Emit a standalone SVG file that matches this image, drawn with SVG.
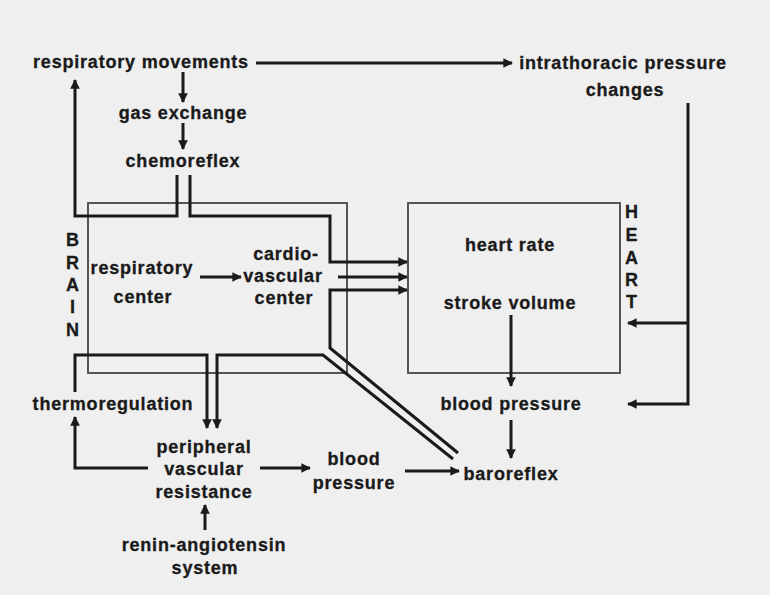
<svg xmlns="http://www.w3.org/2000/svg" width="770" height="595" viewBox="0 0 770 595">
<defs>
<style>
text{font-family:"Liberation Sans",Arial,sans-serif;font-weight:bold;font-size:18px;letter-spacing:0.8px;fill:#1a1a1a;stroke:#1a1a1a;stroke-width:0.3;text-anchor:middle;dominant-baseline:central}
.box{fill:none;stroke:#555;stroke-width:2}
.c{fill:none;stroke:#1a1a1a;stroke-width:3;stroke-linejoin:miter}
.a{marker-end:url(#ah)}
</style>
<marker id="ah" viewBox="0 0 10 10" refX="9" refY="5" markerWidth="3.2" markerHeight="3.2" orient="auto" markerUnits="strokeWidth">
<path d="M0,0 L10,5 L0,10 z" fill="#1a1a1a"/>
</marker>
</defs>
<rect width="770" height="595" fill="#efefef"/>

<g id="brain">
<rect class="box" x="88" y="203" width="259" height="170"/>
<text x="73" y="240">B</text>
<text x="73" y="263">R</text>
<text x="73" y="285">A</text>
<text x="73" y="307">I</text>
<text x="73" y="330">N</text>
</g>
<g id="heart">
<rect class="box" x="408" y="203" width="212" height="170"/>
<text x="632" y="212">H</text>
<text x="632" y="235">E</text>
<text x="632" y="258">A</text>
<text x="632" y="280">R</text>
<text x="632" y="302">T</text>
</g>

<g id="respiratory-movements"><text x="141" y="62">respiratory movements</text></g>
<g id="intrathoracic"><text x="623" y="63">intrathoracic pressure</text><text x="625" y="90">changes</text></g>
<g id="gas-exchange"><text x="183" y="113">gas exchange</text></g>
<g id="chemoreflex"><text x="183" y="161">chemoreflex</text></g>
<g id="respiratory-center"><text x="142" y="268">respiratory</text><text x="143" y="297">center</text></g>
<g id="cardiovascular-center"><text x="286" y="254">cardio-</text><text x="283" y="276">vascular</text><text x="284" y="298">center</text></g>
<g id="heart-rate"><text x="510" y="245">heart rate</text></g>
<g id="stroke-volume"><text x="510" y="303">stroke volume</text></g>
<g id="blood-pressure-heart"><text x="511" y="404">blood pressure</text></g>
<g id="thermoregulation"><text x="113" y="404">thermoregulation</text></g>
<g id="peripheral-resistance"><text x="204" y="447">peripheral</text><text x="204" y="469">vascular</text><text x="204" y="492">resistance</text></g>
<g id="blood-pressure"><text x="354" y="459">blood</text><text x="354" y="483">pressure</text></g>
<g id="baroreflex"><text x="511" y="474">baroreflex</text></g>
<g id="renin"><text x="204" y="545">renin-angiotensin</text><text x="205" y="568">system</text></g>

<g id="connectors">
<path class="c a" d="M256,63 H512"/>
<path class="c a" d="M183,72 V102"/>
<path class="c a" d="M183,123 V149"/>
<path class="c a" d="M177,175 V216 H75 V80"/>
<path class="c a" d="M190,175 V216 H330 V262 H407"/>
<path class="c a" d="M200,277 H241"/>
<path class="c a" d="M338,277 H407"/>
<path class="c a" d="M458,453 L330,348 V290 H407"/>
<path class="c a" d="M453,459 L323,355 H217 V428"/>
<path class="c a" d="M75,392 V355 H207 V428"/>
<path class="c a" d="M148,468 H75 V417"/>
<path class="c a" d="M260,468 H310"/>
<path class="c a" d="M405,471 H459"/>
<path class="c a" d="M205,530 V505"/>
<path class="c a" d="M511,315 V386"/>
<path class="c a" d="M511,420 V458"/>
<path class="c a" d="M688,103 V404 H628"/>
<path class="c a" d="M688,323 H628"/>
</g>
</svg>
